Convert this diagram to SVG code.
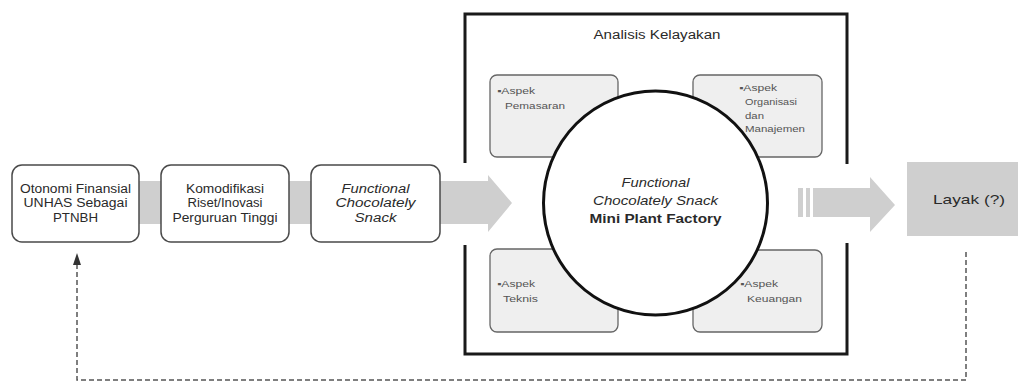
<svg xmlns="http://www.w3.org/2000/svg" width="1018" height="382" viewBox="0 0 1018 382">
<style>
text{font-family:"Liberation Sans",Arial,sans-serif;fill:#2a2a2a}
.lb{font-size:12px;text-anchor:middle}
.it{font-style:italic}
.asp{font-size:9px;fill:#555}
.box{fill:#fff;stroke:#4a4a4a;stroke-width:1.5}
.abox{fill:#efefef;stroke:#666;stroke-width:1.3}
.arw{fill:#cfcfcf}
.dash{fill:none;stroke:#555;stroke-width:1.5;stroke-dasharray:5 3}
</style>
<defs>
<marker id="ah" viewBox="0 0 10 10" refX="5" refY="2" markerWidth="7" markerHeight="9" markerUnits="userSpaceOnUse" orient="auto-start-reverse">
<path d="M0,10 L5,0 L10,10 Z" fill="#333"/>
</marker>
</defs>
<rect width="1018" height="382" fill="#fff"/>
<g id="connectors">
<path class="arw" d="M130,181 H488 V175 L512,203 L488,232 V224 H130 Z"/>
<rect class="arw" x="798" y="188" width="5" height="29"/>
<rect class="arw" x="806" y="188" width="4" height="29"/>
<path class="arw" d="M813,188 H870 V177 L895,205 L870,232 V217 H813 Z"/>
<path class="dash" d="M966,252 V380 H77 V262"/>
<path d="M73,265 L77,253 L81,265 Z" fill="#333"/>
</g>
<g id="frame">
<path d="M465,163 V14 H847 V164 M847,243 V354 H465 V245" fill="none" stroke="#1a1a1a" stroke-width="3"/>
<text x="657" y="39" style="font-size:12px;text-anchor:middle" textLength="127" lengthAdjust="spacingAndGlyphs">Analisis Kelayakan</text>
</g>
<g id="node1">
<rect class="box" x="12" y="165" width="127" height="77" rx="10"/>
<text class="lb" x="75.5" y="193" textLength="111" lengthAdjust="spacingAndGlyphs">Otonomi Finansial</text>
<text class="lb" x="75.5" y="207" textLength="104" lengthAdjust="spacingAndGlyphs">UNHAS Sebagai</text>
<text class="lb" x="75.5" y="222" textLength="45" lengthAdjust="spacingAndGlyphs">PTNBH</text>
</g>
<g id="node2">
<rect class="box" x="161" y="165" width="128" height="77" rx="10"/>
<text class="lb" x="225" y="193" textLength="78" lengthAdjust="spacingAndGlyphs">Komodifikasi</text>
<text class="lb" x="225" y="207" textLength="75" lengthAdjust="spacingAndGlyphs">Riset/Inovasi</text>
<text class="lb" x="225" y="222" textLength="105" lengthAdjust="spacingAndGlyphs">Perguruan Tinggi</text>
</g>
<g id="node3">
<rect class="box" x="311" y="165" width="129" height="77" rx="10"/>
<text class="lb it" x="375.5" y="193" textLength="68" lengthAdjust="spacingAndGlyphs">Functional</text>
<text class="lb it" x="375.5" y="207" textLength="80" lengthAdjust="spacingAndGlyphs">Chocolately</text>
<text class="lb it" x="375.5" y="222" textLength="42" lengthAdjust="spacingAndGlyphs">Snack</text>
</g>
<g id="aspek-pemasaran">
<rect class="abox" x="490" y="75" width="128" height="82" rx="7"/>
<text class="asp" x="497" y="94" textLength="38" lengthAdjust="spacingAndGlyphs">▪Aspek</text>
<text class="asp" x="505" y="109" textLength="60" lengthAdjust="spacingAndGlyphs">Pemasaran</text>
</g>
<g id="aspek-organisasi">
<rect class="abox" x="693" y="75" width="129" height="82" rx="7"/>
<text class="asp" x="739" y="91" textLength="38" lengthAdjust="spacingAndGlyphs">▪Aspek</text>
<text class="asp" x="745" y="105" textLength="52" lengthAdjust="spacingAndGlyphs">Organisasi</text>
<text class="asp" x="745" y="119" textLength="19" lengthAdjust="spacingAndGlyphs">dan</text>
<text class="asp" x="745" y="132" textLength="60" lengthAdjust="spacingAndGlyphs">Manajemen</text>
</g>
<g id="aspek-teknis">
<rect class="abox" x="490" y="249" width="128" height="83" rx="7"/>
<text class="asp" x="497" y="287" textLength="38" lengthAdjust="spacingAndGlyphs">▪Aspek</text>
<text class="asp" x="503" y="302" textLength="35" lengthAdjust="spacingAndGlyphs">Teknis</text>
</g>
<g id="aspek-keuangan">
<rect class="abox" x="693" y="250" width="129" height="82" rx="7"/>
<text class="asp" x="740" y="287" textLength="38" lengthAdjust="spacingAndGlyphs">▪Aspek</text>
<text class="asp" x="747" y="302" textLength="55" lengthAdjust="spacingAndGlyphs">Keuangan</text>
</g>
<g id="center">
<circle cx="655.5" cy="203" r="112" fill="#fff" stroke="#111" stroke-width="3"/>
<text class="it" x="655.5" y="187" style="font-size:13px;text-anchor:middle" textLength="68" lengthAdjust="spacingAndGlyphs">Functional</text>
<text class="it" x="655.5" y="205" style="font-size:13px;text-anchor:middle" textLength="125" lengthAdjust="spacingAndGlyphs">Chocolately Snack</text>
<text x="655.5" y="223" style="font-size:13px;font-weight:bold;text-anchor:middle" textLength="132" lengthAdjust="spacingAndGlyphs">Mini Plant Factory</text>
</g>
<g id="layak">
<rect x="907" y="162" width="111" height="74" fill="#cfcfcf"/>
<text x="969" y="204" style="font-size:13px;text-anchor:middle" textLength="72" lengthAdjust="spacingAndGlyphs">Layak (?)</text>
</g>
</svg>
